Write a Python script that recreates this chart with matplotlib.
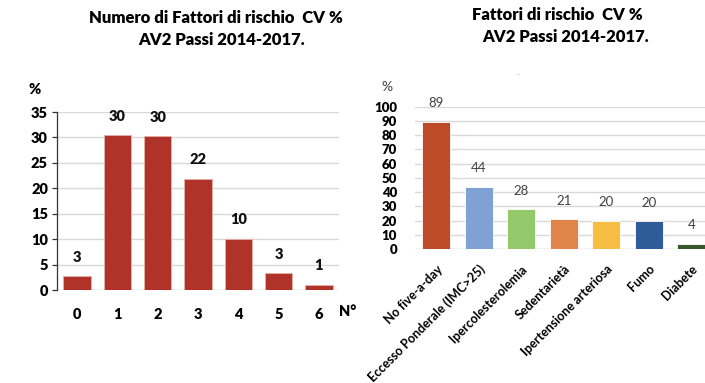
import matplotlib.pyplot as plt
import numpy as np

plt.rcParams['font.family'] = ['Lato', 'DejaVu Sans']

# number of CV risk factors per person (%)
n_factors = ['0', '1', '2', '3', '4', '5', '6']
pct_factors = [2.7, 30.4, 30.2, 21.9, 10.1, 3.3, 1.0]

# prevalence of each CV risk factor (%)
risk_names = ['No five-a-day', 'Eccesso Ponderale (IMC>25)', 'Ipercolesterolemia',
              'Sedentarietà', 'Ipertensione arteriosa', 'Fumo', 'Diabete']
risk_pct = [89.3, 43.8, 28.1, 20.9, 19.9, 19.6, 3.6]
risk_colors = ['#BE4B27', '#7FA1D6', '#93C96B', '#E0844A', '#F5BE43', '#2F5C99', '#38572A']

BAR_RED = '#B03329'
GRID = '#D9D9D9'
BOLD = 'heavy'
W, H = 705, 383

fig = plt.figure(figsize=(W / 100, H / 100), dpi=100, facecolor='white')

# ---------------- left panel ----------------
axL = fig.add_axes([57 / W, (H - 290) / H, 282 / W, 178 / H])
x = np.arange(len(n_factors))
axL.bar(x, pct_factors, width=0.68, color=BAR_RED, edgecolor='#E8B0A8', linewidth=0.6, zorder=3)
axL.set_xlim(-0.5, len(n_factors) - 0.5)
axL.set_ylim(0, 35)
axL.set_yticks(range(0, 36, 5))
axL.set_xticks(x)
axL.set_xticklabels(n_factors)
axL.yaxis.grid(True, color=GRID, linewidth=1.0, zorder=0)
axL.set_axisbelow(True)
for s in ['top', 'right', 'bottom']:
    axL.spines[s].set_visible(False)
axL.spines['left'].set_color('#333333')
axL.spines['left'].set_linewidth(0.9)
axL.axhline(0, color=GRID, linewidth=1.0, zorder=1)
axL.tick_params(axis='y', length=3.5, width=0.9, color='#333333', pad=3,
                labelsize=10.5)
axL.tick_params(axis='x', length=0, pad=13, labelsize=10.5)
for lab in axL.get_xticklabels() + axL.get_yticklabels():
    lab.set_fontweight(BOLD)
for xi, v in zip(x, pct_factors):
    axL.annotate(f'{v:.0f}', (xi, v), xytext=(0, 9), textcoords='offset points',
                 ha='center', va='bottom', fontsize=10.5, fontweight=BOLD, color='#111111')
fig.text(348 / W, 1 - 312 / H, 'N°', ha='center', va='center', fontsize=10.5, fontweight=BOLD)
fig.text(35 / W, 1 - 89 / H, '%', ha='center', va='center', fontsize=10.5, fontweight=BOLD)
fig.text(216 / W, 1 - 18 / H, 'Numero di Fattori di rischio  CV %', ha='center', va='center',
         fontsize=12, fontweight=BOLD)
fig.text(222 / W, 1 - 40 / H, 'AV2 Passi 2014-2017.', ha='center', va='center',
         fontsize=12, fontweight=BOLD)

# ---------------- right panel ----------------
axR = fig.add_axes([415 / W, (H - 249) / H, 297.5 / W, 142.3 / H])
xr = np.arange(len(risk_names))
axR.bar(xr, risk_pct, width=0.65, color=risk_colors, edgecolor='white', linewidth=0.6, zorder=3)
axR.set_xlim(-0.5, len(risk_names) - 0.5)
axR.set_ylim(0, 100)
axR.set_yticks(range(0, 101, 10))
axR.set_xticks(xr)
axR.set_xticklabels(risk_names, rotation=45, ha='right', rotation_mode='anchor')
axR.yaxis.grid(True, color=GRID, linewidth=1.0, zorder=0)
axR.set_axisbelow(True)
for s in axR.spines.values():
    s.set_visible(False)
axR.axhline(0, color=GRID, linewidth=1.0, zorder=1)
axR.tick_params(axis='y', length=0, pad=13, labelsize=9.5)
axR.tick_params(axis='x', length=0, pad=10, labelsize=9)
for lab in axR.get_yticklabels():
    lab.set_fontweight(BOLD)
for lab in axR.get_xticklabels():
    lab.set_fontweight('bold')
for xi, v in zip(xr, risk_pct):
    axR.annotate(f'{v:.0f}', (xi, v), xytext=(0, 9), textcoords='offset points',
                 ha='center', va='bottom', fontsize=9.5, color='#404040')
fig.text(387 / W, 1 - 87 / H, '%', ha='center', va='center', fontsize=10, color='#404040')
fig.text(557 / W, 1 - 15 / H, 'Fattori di rischio  CV %', ha='center', va='center',
         fontsize=12, fontweight=BOLD)
fig.text(566 / W, 1 - 37 / H, 'AV2 Passi 2014-2017.', ha='center', va='center',
         fontsize=12, fontweight=BOLD)
fig.text(518 / W, 1 - 75 / H, '–', ha='center', va='center', fontsize=6, color='#BBBBBB')

fig.savefig('out.png', dpi=100, facecolor='white')
